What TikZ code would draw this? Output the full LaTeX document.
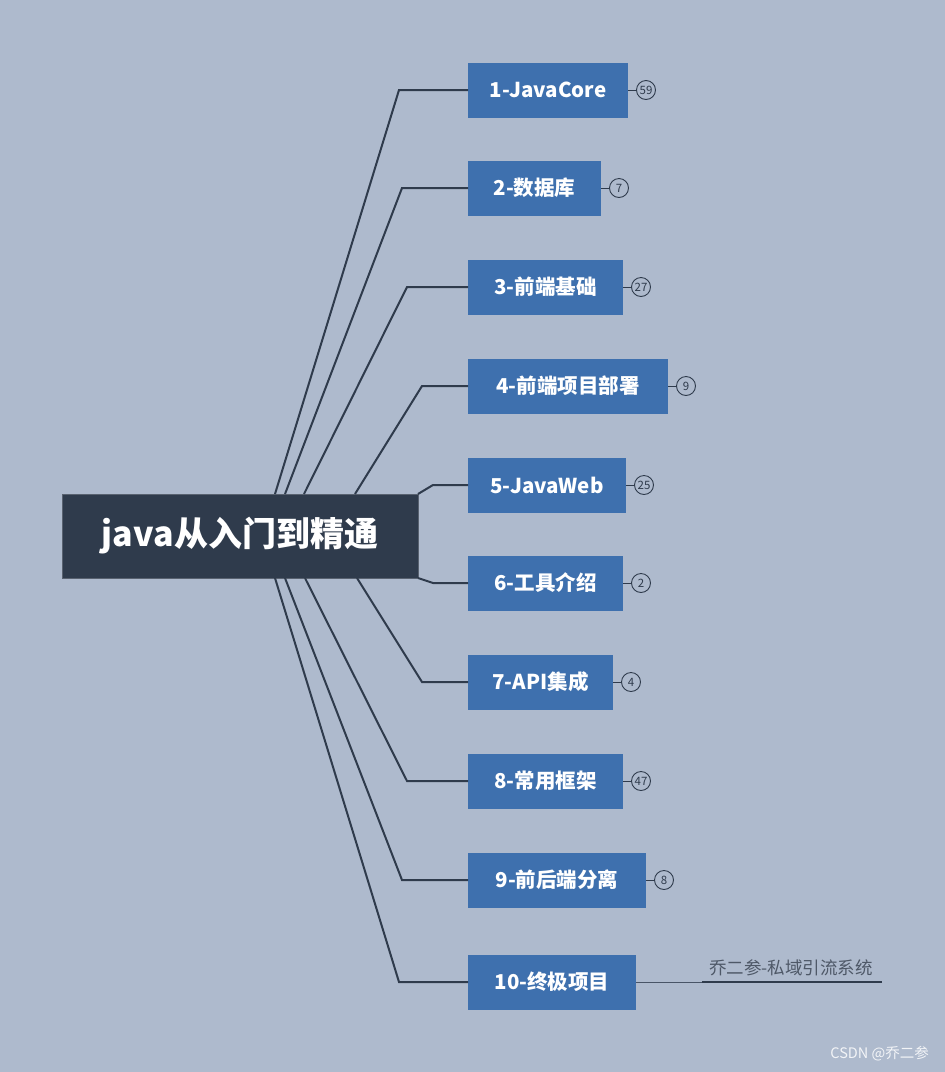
\documentclass[tikz,border=0pt]{standalone}
\usepackage{fontspec}
\setmainfont{Noto Sans CJK SC}
\definecolor{bgc}{HTML}{AEBACD}
\definecolor{rootc}{HTML}{2F3B4C}
\definecolor{brc}{HTML}{3E70AE}
\definecolor{linec}{HTML}{2F3B4C}
\begin{document}
\begin{tikzpicture}[x=1pt,y=-1pt,
  root/.style={fill=rootc,draw=rootc!80!white,line width=0.8pt,text=white,font=\fontsize{34}{40}\selectfont\bfseries,minimum width=356pt,minimum height=84pt,inner sep=0pt,outer sep=0pt},
  br/.style={fill=brc,text=white,font=\fontsize{20.5}{24}\selectfont\bfseries,minimum height=55pt,inner sep=0pt,outer sep=0pt,anchor=west},
  badge/.style={circle,draw=linec,line width=0.9pt,minimum size=19pt,inner sep=0pt,font=\fontsize{11.5}{13}\selectfont,text=linec},
  conn/.style={draw=linec,line width=2pt},
  tick/.style={draw=linec,line width=1pt}]
\fill[bgc] (0,0) rectangle (945,1072);
\node[root] (root) at (240,536) {java从入门到精通};
% branches
\node[br,minimum width=160pt] (b1) at (468,90) {1-JavaCore};
\node[br,minimum width=133pt] (b2) at (468,188) {2-数据库};
\node[br,minimum width=155pt] (b3) at (468,287) {3-前端基础};
\node[br,minimum width=200pt] (b4) at (468,386) {4-前端项目部署};
\node[br,minimum width=158pt] (b5) at (468,485) {5-JavaWeb};
\node[br,minimum width=155pt] (b6) at (468,583) {6-工具介绍};
\node[br,minimum width=145pt] (b7) at (468,682) {7-API集成};
\node[br,minimum width=155pt] (b8) at (468,781) {8-常用框架};
\node[br,minimum width=178pt] (b9) at (468,880) {9-前后端分离};
\node[br,minimum width=168pt] (b10) at (468,982) {10-终极项目};
% badges
\node[badge] (c1) at (646,90) {59};
\node[badge] (c2) at (619,188) {7};
\node[badge] (c3) at (641,287) {27};
\node[badge] (c4) at (686,386) {9};
\node[badge] (c5) at (644,485) {25};
\node[badge] (c6) at (641,583) {2};
\node[badge] (c7) at (631,682) {4};
\node[badge] (c8) at (641,781) {47};
\node[badge] (c9) at (664,880) {8};
\foreach \i in {1,...,9}{\draw[tick] (b\i.east) -- (c\i.west);}
% connectors
\coordinate (s1) at ([xshift=213pt]root.north west);
\coordinate (s2) at ([xshift=223pt]root.north west);
\coordinate (s3) at ([xshift=242pt]root.north west);
\coordinate (s4) at ([xshift=293pt]root.north west);
\coordinate (s7) at ([xshift=295pt]root.south west);
\coordinate (s8) at ([xshift=243pt]root.south west);
\coordinate (s9) at ([xshift=223pt]root.south west);
\coordinate (s10) at ([xshift=213pt]root.south west);
\coordinate (e1) at (399,90);
\coordinate (e2) at (402,188);
\coordinate (e3) at (407,287);
\coordinate (e4) at (422,386);
\coordinate (e5) at (433,485);
\coordinate (e6) at (433,583);
\coordinate (e7) at (422,682);
\coordinate (e8) at (407,781);
\coordinate (e9) at (402,880);
\coordinate (e10) at (399,982);
\draw[conn] (s1) -- (e1) -- (b1.west);
\draw[conn] (s2) -- (e2) -- (b2.west);
\draw[conn] (s3) -- (e3) -- (b3.west);
\draw[conn] (s4) -- (e4) -- (b4.west);
\draw[conn] (root.north east) -- (e5) -- (b5.west);
\draw[conn] (root.south east) -- (e6) -- (b6.west);
\draw[conn] (s7) -- (e7) -- (b7.west);
\draw[conn] (s8) -- (e8) -- (b8.west);
\draw[conn] (s9) -- (e9) -- (b9.west);
\draw[conn] (s10) -- (e10) -- (b10.west);
% sub item of 10
\coordinate (m10) at (702,982);
\coordinate (t10) at (882,982);
\draw[draw=linec!80!bgc,line width=1pt] (b10.east) -- (m10);
\draw[conn] (m10) -- (t10);
\node[font=\fontsize{17.5}{20}\selectfont,text=linec!85!white,anchor=south,inner sep=0pt] (sub) at (791,976) {乔二参-私域引流系统};
% watermark
\node[font=\fontsize{14.5}{16}\selectfont,text=white,opacity=0.85,anchor=east,inner sep=0pt] (wm) at (929,1054) {CSDN @乔二参};
\end{tikzpicture}
\end{document}
